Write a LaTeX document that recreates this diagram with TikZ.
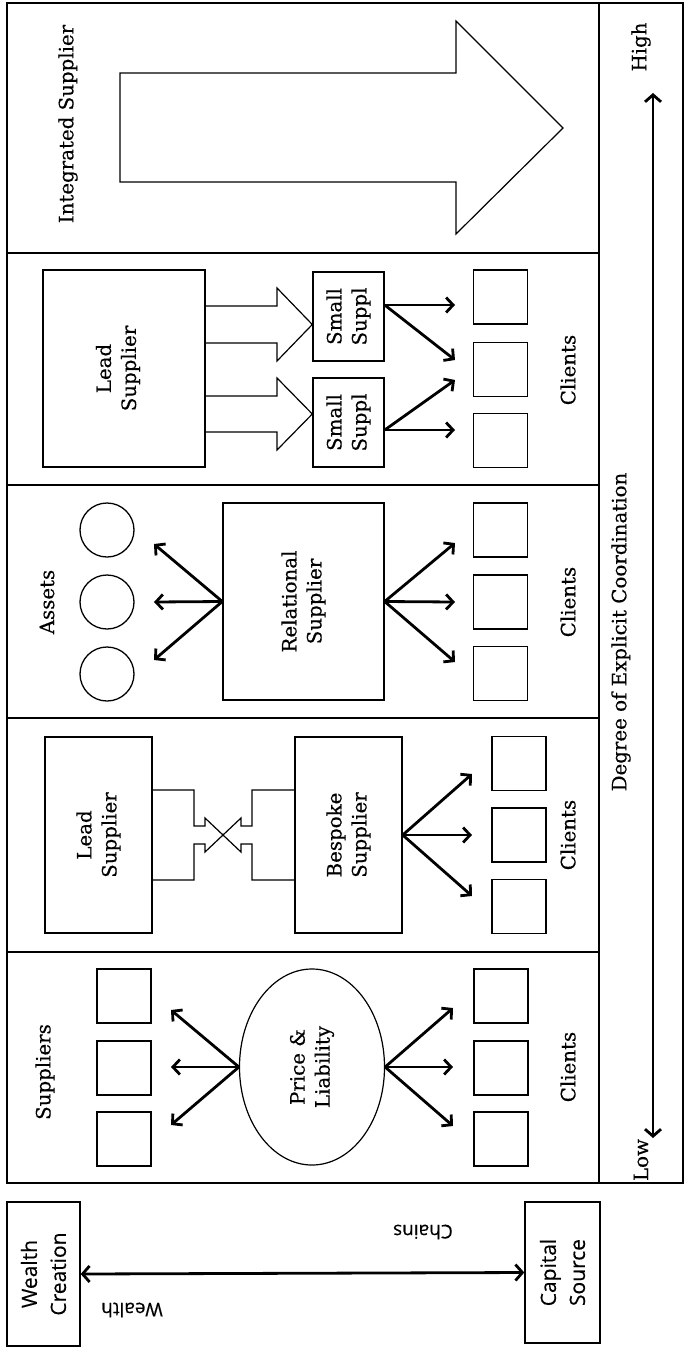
\documentclass[tikz,border=0pt]{standalone}
\usepackage{fontspec}
\setmainfont{DejaVu Serif}
\newfontfamily\serifb[FakeBold=0.35]{DejaVu Serif}
\newfontfamily\sansf[FakeBold=0.3]{Open Sans}
\usetikzlibrary{arrows.meta,shapes.geometric}
\begin{document}
\begin{tikzpicture}[x=1pt,y=-1pt,
  frame/.style={line width=1.7pt, draw=black},
  box/.style={draw=black, line width=1.4pt, inner sep=0pt},
  sq/.style={draw=black, line width=1.4pt, minimum width=54pt, minimum height=54pt, inner sep=0pt},
  arr/.style={line width=2.8pt, -{Straight Barb[length=7pt,width=15pt]}},
  darr/.style={line width=2.8pt, {Straight Barb[length=7pt,width=16pt]}-{Straight Barb[length=7pt,width=16pt]}},
  outline/.style={draw=black, line width=1.2pt, line join=miter},
  lbl/.style={rotate=90, font=\serifb\fontsize{19.8}{25}\selectfont, align=center, inner sep=0pt},
  slbl/.style={font=\sansf\fontsize{21}{29}\selectfont, align=center, inner sep=0pt},
]
\useasboundingbox (0,0) rectangle (686,1347);

% frame
\draw[frame] (7,3) rectangle (683,1183);
\draw[frame] (599,3) -- (599,1183);
\foreach \yy in {253,485,718,952} \draw[frame] (7,\yy) -- (599,\yy);

% ---- panel 1: integrated supplier
\node[lbl] (intl) at (68,124) {Integrated Supplier};
\draw[outline] (120,73) -- (456,73) -- (456,21) -- (563,128) -- (456,234) -- (456,182) -- (120,182) -- cycle;

% ---- panel 2: lead supplier + small suppliers
\node[box, minimum width=162pt, minimum height=197pt] (lead1) at (124,368.5) {};
\node[lbl] (lead1t) at (118,368.5) {Lead\\Supplier};
\node[box, minimum width=71pt, minimum height=89pt] (ss1) at (348.5,316.5) {};
\node[lbl] (ss1t) at (ss1) {Small\\Suppl};
\node[box, minimum width=71pt, minimum height=89pt] (ss2) at (348.5,422.5) {};
\node[lbl] (ss2t) at (ss2) {Small\\Suppl};
\draw[outline] (lead1.east |- 0,306) -- (277,306) -- (277,288) -- (ss1.west |- 0,324.5) -- (277,361) -- (277,343) -- (lead1.east |- 0,343);
\draw[outline] (lead1.east |- 0,396) -- (277,396) -- (277,378) -- (ss2.west |- 0,414) -- (277,450) -- (277,432) -- (lead1.east |- 0,432);
\node[sq] (c21) at (500.5,297) {};
\node[sq] (c22) at (500.5,369.5) {};
\node[sq] (c23) at (500.5,440.5) {};
\coordinate (s1o) at (ss1.east |- 0,305);
\coordinate (s2o) at (ss2.east |- 0,430);
\coordinate (t21) at (455,305);
\coordinate (t22) at (455,360);
\coordinate (t23) at (455,380);
\coordinate (t24) at (455,430);
\draw[arr] (s1o) -- (t21);
\draw[arr] (s1o) -- (t22);
\draw[arr] (s2o) -- (t23);
\draw[arr] (s2o) -- (t24);
\node[lbl] (cl2) at (568,370) {Clients};

% ---- panel 3: relational supplier
\node[lbl] (assets) at (47,602) {Assets};
\node[circle, draw=black, line width=1.3pt, minimum size=54pt, inner sep=0pt] (a1) at (107,530) {};
\node[circle, draw=black, line width=1.3pt, minimum size=54pt, inner sep=0pt] (a2) at (107,602) {};
\node[circle, draw=black, line width=1.3pt, minimum size=54pt, inner sep=0pt] (a3) at (107,674) {};
\node[box, minimum width=161pt, minimum height=197pt] (rel) at (303.5,601.5) {};
\node[lbl] (relt) at (rel) {Relational\\Supplier};
\coordinate (ta1) at (154,544);
\coordinate (ta2) at (154,602);
\coordinate (ta3) at (154,660);
\draw[arr] (rel.west) -- (ta1);
\draw[arr] (rel.west) -- (ta2);
\draw[arr] (rel.west) -- (ta3);
\node[sq] (c31) at (500.5,530) {};
\node[sq] (c32) at (500.5,602) {};
\node[sq] (c33) at (500.5,673.5) {};
\coordinate (tc1) at (455,543);
\coordinate (tc2) at (455,602);
\coordinate (tc3) at (455,662);
\draw[arr] (rel.east) -- (tc1);
\draw[arr] (rel.east) -- (tc2);
\draw[arr] (rel.east) -- (tc3);
\node[lbl] (cl3) at (568,602) {Clients};

% ---- panel 4: bespoke supplier
\node[box, minimum width=107pt, minimum height=196pt] (lead2) at (98.5,835) {};
\node[lbl] (lead2t) at (lead2) {Lead\\Supplier};
\node[box, minimum width=107pt, minimum height=196pt] (bes) at (348.5,835) {};
\node[lbl] (best) at (bes) {Bespoke\\Supplier};
\draw[outline] (lead2.east |- 0,790) -- (194,790) -- (194,826) -- (205,826) -- (205,818) -- (241,852) -- (241,844) -- (252,844) -- (252,880) -- (bes.west |- 0,880);
\draw[outline] (lead2.east |- 0,880) -- (194,880) -- (194,844) -- (205,844) -- (205,852) -- (241,818) -- (241,826) -- (252,826) -- (252,790) -- (bes.west |- 0,790);
\node[sq] (c41) at (519,763.5) {};
\node[sq] (c42) at (519,835) {};
\node[sq] (c43) at (519,906.5) {};
\coordinate (tb1) at (472,774);
\coordinate (tb2) at (472,835);
\coordinate (tb3) at (472,896);
\draw[arr] (bes.east) -- (tb1);
\draw[arr] (bes.east) -- (tb2);
\draw[arr] (bes.east) -- (tb3);
\node[lbl] (cl4) at (568,835) {Clients};

% ---- panel 5: price & liability
\node[lbl] (supl) at (45,1072) {Suppliers};
\node[sq] (s51) at (124,996) {};
\node[sq] (s52) at (124,1068) {};
\node[sq] (s53) at (124,1139) {};
\node[ellipse, draw=black, line width=1.2pt, minimum width=145pt, minimum height=196pt, inner sep=0pt] (pl) at (312,1067) {};
\node[lbl] (plt) at (pl) {Price \&\\Liability};
\coordinate (tp1) at (171,1010);
\coordinate (tp2) at (171,1067);
\coordinate (tp3) at (171,1125);
\draw[arr] (pl.west) -- (tp1);
\draw[arr] (pl.west) -- (tp2);
\draw[arr] (pl.west) -- (tp3);
\node[sq] (c51) at (501,996) {};
\node[sq] (c52) at (501,1068) {};
\node[sq] (c53) at (501,1139) {};
\coordinate (tq1) at (453,1008);
\coordinate (tq2) at (453,1067);
\coordinate (tq3) at (453,1126);
\draw[arr] (pl.east) -- (tq1);
\draw[arr] (pl.east) -- (tq2);
\draw[arr] (pl.east) -- (tq3);
\node[lbl] (cl5) at (568,1067) {Clients};

% ---- axis strip
\coordinate (lowend) at (653,1138);
\coordinate (highend) at (653,93);
\draw[darr] (lowend) -- (highend);
\node[lbl] (high) at (641,47) {High};
\node[lbl] (low) at (641,1160) {Low};
\node[lbl] (deg) at (621,632) {Degree of Explicit Coordination};

% ---- wealth chains
\node[box, minimum width=73pt, minimum height=144pt] (wc) at (43.5,1274) {};
\node[slbl, rotate=90] (wct) at (wc) {Wealth\\Creation};
\node[box, minimum width=75pt, minimum height=141pt] (cs) at (562.5,1272.5) {};
\node[slbl, rotate=90] (cst) at (cs) {Capital\\Source};
\draw[darr] (wc.east) -- (cs.west);
\node[slbl, font=\sansf\fontsize{19}{23}\selectfont, rotate=180] (wl) at (132,1310) {Wealth};
\node[slbl, font=\sansf\fontsize{19}{23}\selectfont, rotate=180] (chl) at (423,1232) {Chains};
\end{tikzpicture}
\end{document}
